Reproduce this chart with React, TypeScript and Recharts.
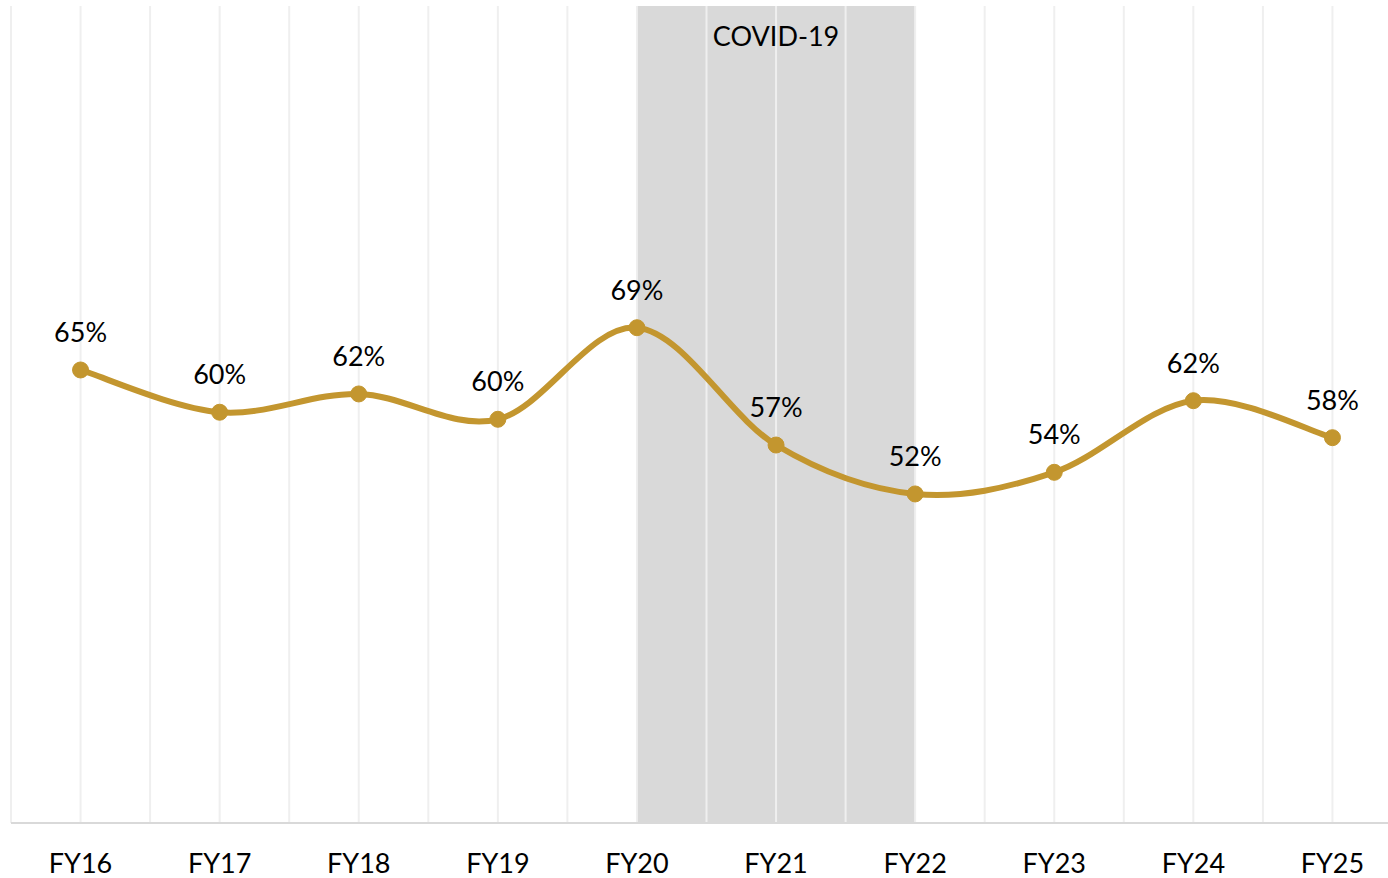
import React from 'react';
import { LineChart, Line, XAxis, YAxis, ReferenceArea, ReferenceLine, LabelList } from 'recharts';

const categories = ['FY16', 'FY17', 'FY18', 'FY19', 'FY20', 'FY21', 'FY22', 'FY23', 'FY24', 'FY25'];
const ratio = [0.647, 0.6038, 0.6225, 0.5966, 0.6902, 0.5703, 0.5203, 0.5424, 0.6156, 0.5778];
const covidStart = 'FY20';
const covidEnd = 'FY22';

const GOLD = '#C3962F';
const FONT = 'Lato, "Open Sans", sans-serif';

const data = categories.map((fy, i) => ({ idx: i, fy, value: ratio[i] }));

// vertical gridlines: one on each category, one halfway between
const gridX = [...categories.flatMap((_, i) => [i - 0.5, i]), categories.length - 0.5];

// Excel-style smoothed line (Catmull-Rom through every point)
const excelSmooth = (context: any) => {
  let pts: number[][] = [];
  return {
    areaStart() {},
    areaEnd() {},
    lineStart() {
      pts = [];
    },
    lineEnd() {
      const n = pts.length;
      if (!n) return;
      context.moveTo(pts[0][0], pts[0][1]);
      for (let i = 0; i < n - 1; i++) {
        const p0 = pts[Math.max(0, i - 1)];
        const p1 = pts[i];
        const p2 = pts[i + 1];
        const p3 = pts[Math.min(n - 1, i + 2)];
        context.bezierCurveTo(
          p1[0] + (p2[0] - p0[0]) / 6,
          p1[1] + (p2[1] - p0[1]) / 6,
          p2[0] - (p3[0] - p1[0]) / 6,
          p2[1] - (p3[1] - p1[1]) / 6,
          p2[0],
          p2[1]
        );
      }
    },
    point(x: number, y: number) {
      pts.push([+x, +y]);
    },
  };
};

export default function App() {
  return (
    <div style={{ position: 'absolute', left: 0, top: 0, width: 1388, height: 878, overflow: 'hidden', background: '#fff' }}>
      <LineChart width={1420} height={878} data={data} margin={{ top: 6, right: 18, bottom: 25, left: 11 }}>
        <ReferenceArea
          x1={categories.indexOf(covidStart)}
          x2={categories.indexOf(covidEnd)}
          fill="#D9D9D9"
          fillOpacity={1}
          stroke="none"
          label={{ value: 'COVID-19', position: 'insideTop', offset: 21, fill: '#000', fontSize: 27, fontFamily: FONT }}
        />
        {gridX.map((x) => (
          <ReferenceLine key={x} x={x} stroke="#EFEFEF" strokeWidth={2} />
        ))}
        <XAxis
          type="number"
          dataKey="idx"
          domain={[-0.5, categories.length - 0.5]}
          ticks={categories.map((_, i) => i)}
          interval={0}
          tickFormatter={(i: number) => categories[i]}
          axisLine={{ stroke: '#D9D9D9', strokeWidth: 2 }}
          tickLine={false}
          tickSize={0}
          tickMargin={31}
          tick={{ fill: '#000', fontSize: 27, fontFamily: FONT }}
        />
        <YAxis hide domain={[0.184, 1.019]} />
        <Line
          dataKey="value"
          type={excelSmooth as any}
          stroke={GOLD}
          strokeWidth={6}
          dot={{ r: 8, fill: GOLD, stroke: GOLD, strokeWidth: 1 }}
          activeDot={false}
          isAnimationActive={false}
        >
          <LabelList
            dataKey="value"
            position="top"
            offset={28}
            formatter={(v: any) => `${Math.round(Number(v) * 100)}%`}
            style={{ fill: '#000', fontSize: 27, fontFamily: FONT }}
          />
        </Line>
      </LineChart>
    </div>
  );
}
